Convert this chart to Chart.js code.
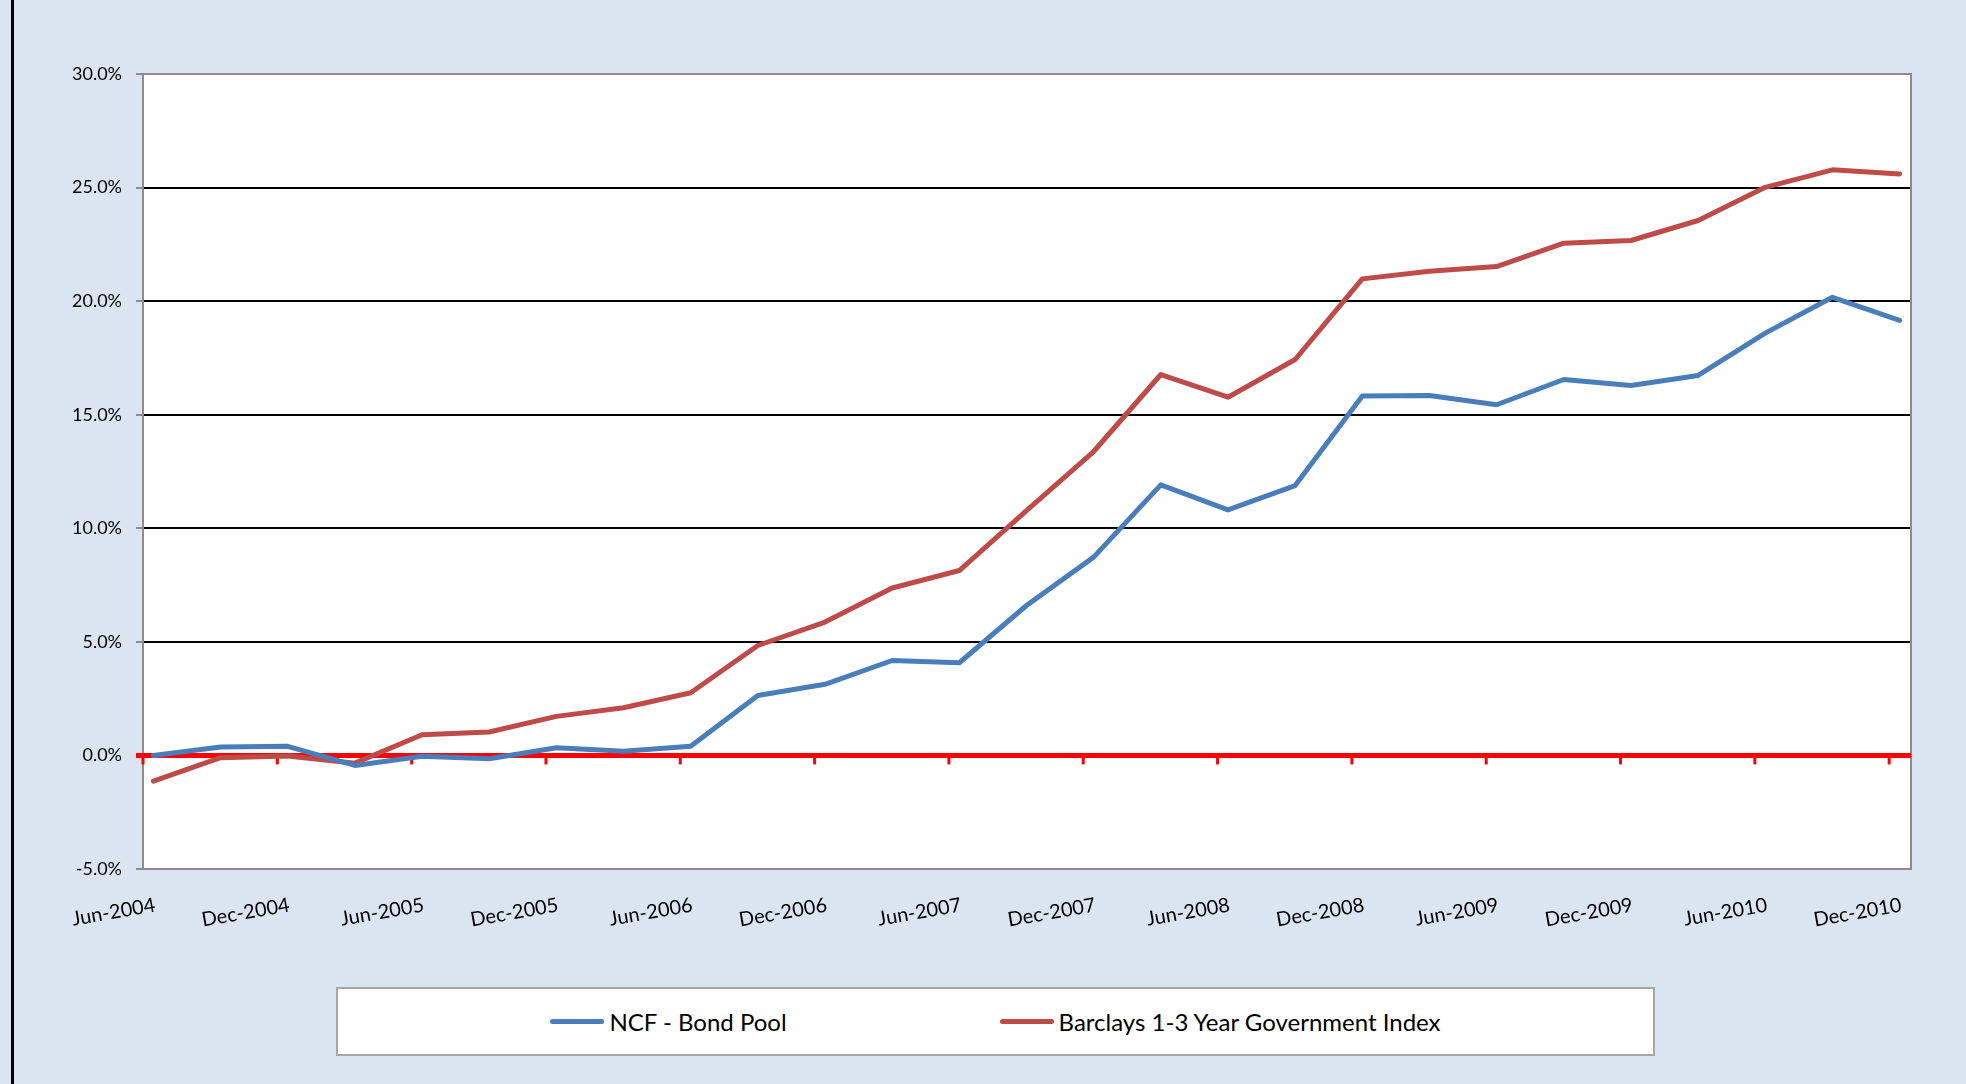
<html>
<head>
<script src="https://cdn.jsdelivr.net/npm/chart.js@4.4.0/dist/chart.umd.min.js"></script>
<style>
  body { margin: 0; background: #dbe5f1; width: 1966px; height: 1084px; overflow: hidden; position: relative; font-family: Lato, "Noto Sans", sans-serif; }
  #edge { position: absolute; left: 11px; top: 0; width: 3px; height: 1084px; background: #000; }
  #myChart { position: absolute; left: 0; top: 0; }
  #legend { position: absolute; left: 336px; top: 987px; width: 1315px; height: 65px; background: #fff;
            border: 2px solid #a6a6a6; display: flex; justify-content: center; align-items: center; gap: 213px; }
  .item { display: flex; align-items: center; font-size: 24px; color: #000; }
  .swatch { width: 54px; height: 5px; border-radius: 3px; margin-right: 5px; }
</style>
</head>
<body>
<div id="edge"></div>
<canvas id="myChart" width="1966" height="1084"></canvas>
<div id="legend"></div>
<script>
// quarterly cumulative returns (%)
const periods = ["Jun-2004", "Sep-2004", "Dec-2004", "Mar-2005", "Jun-2005", "Sep-2005", "Dec-2005",
    "Mar-2006", "Jun-2006", "Sep-2006", "Dec-2006", "Mar-2007", "Jun-2007", "Sep-2007", "Dec-2007",
    "Mar-2008", "Jun-2008", "Sep-2008", "Dec-2008", "Mar-2009", "Jun-2009", "Sep-2009", "Dec-2009",
    "Mar-2010", "Jun-2010", "Sep-2010", "Dec-2010"];
const xTickLabels = ["Jun-2004", "Dec-2004", "Jun-2005", "Dec-2005", "Jun-2006", "Dec-2006", "Jun-2007",
    "Dec-2007", "Jun-2008", "Dec-2008", "Jun-2009", "Dec-2009", "Jun-2010", "Dec-2010"];
const ncfBondPool = [0.00, 0.37, 0.40, -0.44, -0.04, -0.15, 0.34, 0.18, 0.40, 2.64, 3.13, 4.18, 4.08,
    6.60, 8.73, 11.91, 10.81, 11.88, 15.82, 15.85, 15.44, 16.55, 16.29, 16.73, 18.59, 20.17, 19.15];
const barclays13 = [-1.13, -0.10, -0.03, -0.34, 0.91, 1.03, 1.72, 2.10, 2.76, 4.84, 5.87, 7.37, 8.14,
    10.78, 13.38, 16.77, 15.77, 17.43, 20.98, 21.32, 21.52, 22.55, 22.67, 23.55, 25.01, 25.78, 25.60];
const seriesNames = ["NCF - Bond Pool", "Barclays 1-3 Year Government Index"];
const seriesColors = ["#4a7ebb", "#be4b48"];

// axis starts a little before the first quarter, like the original sheet
const xStart = -0.155;
const xEnd = 26.17;
// rotated labels sit a bit right of their tick mark
const labelShift = 0.18;

const toPoints = arr => arr.map((v, i) => ({ x: i, y: v }));

// white plot area, grey frame and the red tick marks on the zero line
const plotFrame = {
    id: "plotFrame",
    beforeDraw(chart) {
        const { ctx, chartArea: a } = chart;
        ctx.save();
        ctx.fillStyle = "#fff";
        ctx.fillRect(a.left, a.top, a.width, a.height);
        ctx.restore();
    },
    beforeDatasetsDraw(chart) {
        const { ctx, chartArea: a, scales } = chart;
        ctx.save();
        ctx.strokeStyle = "#8c8c8c";
        ctx.lineWidth = 2;
        ctx.strokeRect(a.left, a.top, a.width, a.height);
        const y0 = scales.y.getPixelForValue(0);
        ctx.strokeStyle = "#ff0000";
        ctx.lineWidth = 5;
        ctx.beginPath();
        ctx.moveTo(a.left - 7, y0);
        ctx.lineTo(a.right, y0);
        ctx.stroke();
        ctx.lineWidth = 3;
        scales.x.ticks.forEach(t => {
            const px = scales.x.getPixelForValue(t.value - labelShift);
            ctx.beginPath();
            ctx.moveTo(px, y0);
            ctx.lineTo(px, y0 + 9);
            ctx.stroke();
        });
        ctx.restore();
    }
};

const ctx = document.getElementById("myChart").getContext("2d");
const chart = new Chart(ctx, {
    type: "line",
    data: {
        datasets: [
            {
                label: seriesNames[0],
                data: toPoints(ncfBondPool),
                borderColor: seriesColors[0],
                borderWidth: 5,
                pointRadius: 0,
                tension: 0,
                fill: false,
                borderCapStyle: "round",
                borderJoinStyle: "round"
            },
            {
                label: seriesNames[1],
                data: toPoints(barclays13),
                borderColor: seriesColors[1],
                borderWidth: 5,
                pointRadius: 0,
                tension: 0,
                fill: false,
                borderCapStyle: "round",
                borderJoinStyle: "round"
            }
        ]
    },
    options: {
        responsive: false,
        animation: false,
        layout: { padding: { left: 0, top: 74, right: 55, bottom: 0 } },
        plugins: {
            legend: { display: false },
            tooltip: { enabled: false }
        },
        scales: {
            x: {
                type: "linear",
                min: xStart,
                max: xEnd,
                afterBuildTicks: scale => {
                    scale.ticks = xTickLabels.map((_, k) => ({ value: xStart + 2 * k + labelShift }));
                },
                afterFit: scale => { scale.height = 215; },
                grid: { display: false, drawTicks: false },
                border: { display: true, color: "#8c8c8c", width: 2 },
                ticks: {
                    autoSkip: false,
                    minRotation: 10,
                    maxRotation: 10,
                    padding: 24,
                    color: "#000",
                    font: { family: "Lato", size: 20 },
                    callback: (v, i) => xTickLabels[i]
                }
            },
            y: {
                min: -5,
                max: 30,
                afterFit: scale => { scale.width = 143; },
                grid: {
                    color: c => (c.tick.value === -5 || c.tick.value === 30) ? "#8c8c8c" : (c.tick.value === 0 ? "#ff0000" : "#000"),
                    lineWidth: c => c.tick.value === 0 ? 5 : 2,
                    tickColor: c => c.tick.value === 0 ? "#ff0000" : "#8c8c8c",
                    tickWidth: 2,
                    tickLength: 7
                },
                border: { display: true, color: "#8c8c8c", width: 2 },
                ticks: {
                    stepSize: 5,
                    padding: 14,
                    color: "#000",
                    font: { family: "Lato", size: 18 },
                    callback: v => v.toFixed(1) + "%"
                }
            }
        }
    },
    plugins: [plotFrame]
});

// legend box below the plot
const legend = document.getElementById("legend");
seriesNames.forEach((name, i) => {
    const item = document.createElement("div");
    item.className = "item";
    const sw = document.createElement("span");
    sw.className = "swatch";
    sw.style.background = seriesColors[i];
    const txt = document.createElement("span");
    txt.textContent = name;
    item.appendChild(sw);
    item.appendChild(txt);
    legend.appendChild(item);
});
</script>
</body>
</html>
